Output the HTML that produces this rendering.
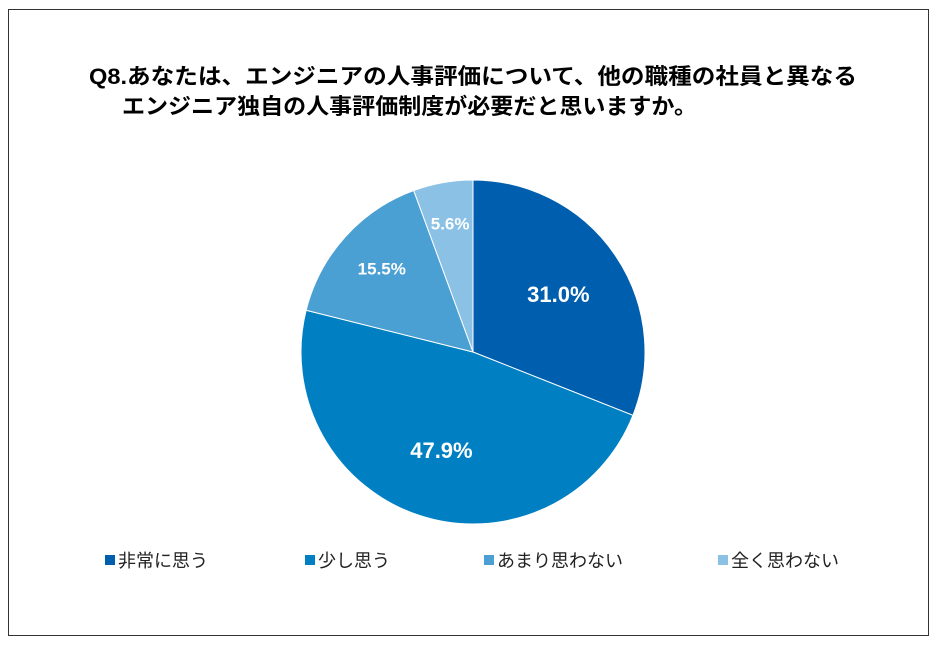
<!DOCTYPE html>
<html><head><meta charset="utf-8"><style>
body{margin:0;background:#fff;}
#frame{position:absolute;left:8px;top:9px;width:921px;height:627px;border:1.5px solid #333;box-sizing:border-box;}
.t{font-family:"Liberation Sans","Noto Sans CJK JP",sans-serif;}
</style></head><body>
<div id="frame"></div>
<svg width="939" height="647" style="position:absolute;left:0;top:0">
<text x="89" y="84" class="t" font-size="22" font-weight="bold" fill="#000" textLength="768" lengthAdjust="spacingAndGlyphs">Q8.あなたは、エンジニアの人事評価について、他の職種の社員と異なる</text>
<text x="122" y="114" class="t" font-size="22" font-weight="bold" fill="#000" textLength="575" lengthAdjust="spacingAndGlyphs">エンジニア独自の人事評価制度が必要だと思いますか。</text>
<g id="slices"></g>
<g id="legend"></g>
</svg>
<script>
const categories=["非常に思う","少し思う","あまり思わない","全く思わない"];
const values=[31.0,47.9,15.5,5.6];
const labels=["31.0%","47.9%","15.5%","5.6%"];
const colors=["#005EAE","#0080C2","#4A9FD3","#8AC1E5"];
const cx=473,cy=352,r=172;
const ns="http://www.w3.org/2000/svg";
const g=document.getElementById('slices');
const total=values.reduce((a,b)=>a+b,0);
let a0=0;
values.forEach((v,i)=>{
  const a1=a0+v/total*2*Math.PI;
  const x0=cx+r*Math.sin(a0),y0=cy-r*Math.cos(a0),x1=cx+r*Math.sin(a1),y1=cy-r*Math.cos(a1);
  const p=document.createElementNS(ns,'path');
  p.setAttribute('d',`M${cx},${cy}L${x0},${y0}A${r},${r} 0 ${a1-a0>Math.PI?1:0} 1 ${x1},${y1}Z`);
  p.setAttribute('fill',colors[i]);p.setAttribute('stroke','#fff');p.setAttribute('stroke-width','1');
  
  
  g.appendChild(p);
  const am=(a0+a1)/2, lr=i<2?r*0.6:r*0.76;
  const t=document.createElementNS(ns,'text');
  t.setAttribute('x',cx+lr*Math.sin(am)+(i==2?6:0));t.setAttribute('y',cy-lr*Math.cos(am)+(i<2?8:6)+(i==2?4:0));
  t.setAttribute('text-anchor','middle');t.setAttribute('class','t');t.setAttribute('fill','#fff');
  t.setAttribute('font-weight','bold');t.setAttribute('font-size',i<2?'22':'17');
  t.textContent=labels[i];
  
  
  g.appendChild(t);
  a0=a1;
});
const lg=document.getElementById('legend');
const lx=[105,305,484,718];
categories.forEach((c,i)=>{
  const rc=document.createElementNS(ns,'rect');
  rc.setAttribute('x',lx[i]);rc.setAttribute('y',555);rc.setAttribute('width',10);rc.setAttribute('height',10);rc.setAttribute('fill',colors[i]);
  
  
  lg.appendChild(rc);
  const t=document.createElementNS(ns,'text');
  t.setAttribute('x',lx[i]+13);t.setAttribute('y',567);t.setAttribute('class','t');t.setAttribute('font-size','18');t.setAttribute('fill','#222');
  t.textContent=c;
  
  
  lg.appendChild(t);
});
</script>
</body></html>
